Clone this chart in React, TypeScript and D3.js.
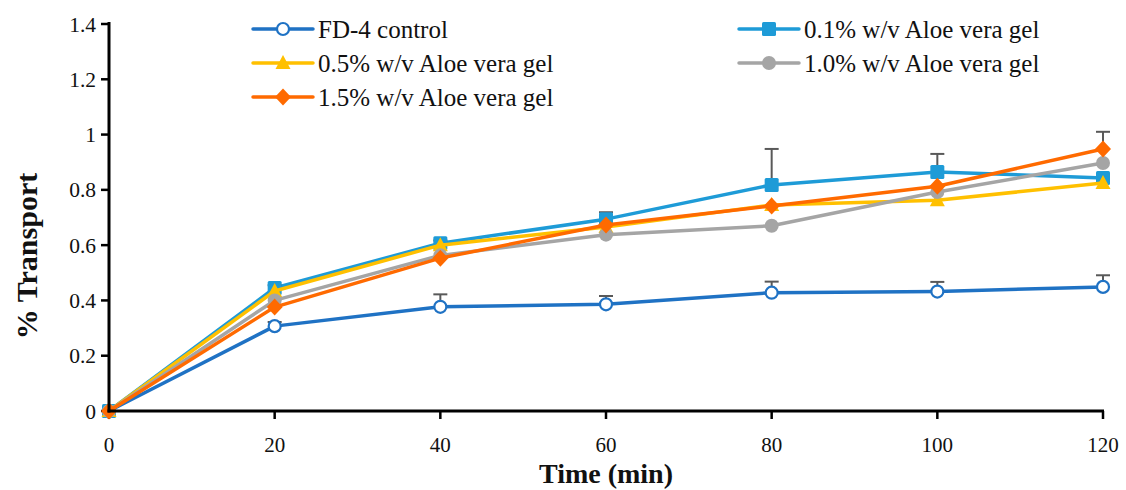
import React from "react";
import * as d3 from "d3";

const times = [0, 20, 40, 60, 80, 100, 120];
const seriesNames = [
  "FD-4 control",
  "0.1% w/v Aloe vera gel",
  "0.5% w/v Aloe vera gel",
  "1.0% w/v Aloe vera gel",
  "1.5% w/v Aloe vera gel",
];
const control = [0, 0.307, 0.377, 0.386, 0.428, 0.432, 0.449];
const aloe01 = [0, 0.445, 0.607, 0.694, 0.818, 0.865, 0.843];
const aloe05 = [0, 0.434, 0.6, 0.666, 0.745, 0.762, 0.825];
const aloe10 = [0, 0.4, 0.563, 0.638, 0.67, 0.792, 0.897];
const aloe15 = [0, 0.376, 0.553, 0.673, 0.742, 0.813, 0.948];
const errControl = [0, 0.015, 0.045, 0.03, 0.04, 0.035, 0.042];
const err01 = [0, 0.01, 0.01, 0.025, 0.13, 0.065, 0];
const err05 = [0, 0, 0, 0, 0, 0, 0];
const err10 = [0, 0, 0, 0, 0, 0, 0];
const err15 = [0, 0, 0, 0, 0, 0, 0.062];
const yTicks = [0, 0.2, 0.4, 0.6, 0.8, 1, 1.2, 1.4];
const xTicks = [0, 20, 40, 60, 80, 100, 120];

const colors = ["#1F72C4", "#1E9BD7", "#FFC000", "#A5A5A5", "#FF6A00"];
const markers = ["circle", "square", "triangle", "dot", "diamond"];
const values = [control, aloe01, aloe05, aloe10, aloe15];
const errors = [errControl, err01, err05, err10, err15];

const FONT = "'Liberation Serif', 'DejaVu Serif', serif";

function Marker({ type, x, y, color }: { type: string; x: number; y: number; color: string }) {
  if (type === "circle")
    return <circle cx={x} cy={y} r={6} fill="#fff" stroke={color} strokeWidth={2.2} />;
  if (type === "square")
    return <rect x={x - 7} y={y - 7} width={14} height={14} rx={1.5} fill={color} />;
  if (type === "triangle")
    return <path d={`M${x},${y - 8}L${x + 7.5},${y + 6}L${x - 7.5},${y + 6}Z`} fill={color} />;
  if (type === "dot") return <circle cx={x} cy={y} r={7} fill={color} />;
  return <path d={`M${x},${y - 8.5}L${x + 8},${y}L${x},${y + 8.5}L${x - 8},${y}Z`} fill={color} />;
}

export default function App() {
  const x = d3.scaleLinear().domain([0, 120]).range([109, 1103]);
  const y = d3.scaleLinear().domain([0, 1.4]).range([411, 24]);
  const line = d3
    .line<number>()
    .x((_, i) => x(times[i]))
    .y((d) => y(d));

  const legendItems = [
    { i: 0, lx: 253, ly: 29 },
    { i: 1, lx: 739, ly: 29 },
    { i: 2, lx: 253, ly: 63 },
    { i: 3, lx: 739, ly: 63 },
    { i: 4, lx: 253, ly: 97 },
  ];

  return (
    <svg
      width={1126}
      height={490}
      style={{ position: "absolute", left: 0, top: 0, background: "#fff" }}
      fontFamily={FONT}
    >
      <rect width={1126} height={490} fill="#fff" />
      {/* y ticks */}
      {yTicks.map((t) => (
        <g key={"y" + t}>
          <line x1={101} x2={109} y1={y(t)} y2={y(t)} stroke="#000" strokeWidth={2.5} />
          <text x={96} y={y(t)} dy="0.35em" textAnchor="end" fontSize={21.5} fill="#111">
            {d3.format("~g")(t)}
          </text>
        </g>
      ))}
      {xTicks.map((t) => (
        <g key={"x" + t}>
          <line x1={x(t)} x2={x(t)} y1={411} y2={419} stroke="#000" strokeWidth={2.5} />
          <text x={x(t)} y={452} textAnchor="middle" fontSize={21} fill="#111">
            {t}
          </text>
        </g>
      ))}
      {/* series */}
      {values.map((vals, si) => (
        <g key={"s" + si}>
          <path d={line(vals) || ""} fill="none" stroke={colors[si]} strokeWidth={3.5} strokeLinejoin="round" />
          {vals.map((v, i) =>
            errors[si][i] > 0 ? (
              <g key={"e" + i} stroke="#595959" strokeWidth={2}>
                <line x1={x(times[i])} x2={x(times[i])} y1={y(v)} y2={y(v + errors[si][i])} />
                <line
                  x1={x(times[i]) - 7}
                  x2={x(times[i]) + 7}
                  y1={y(v + errors[si][i])}
                  y2={y(v + errors[si][i])}
                />
              </g>
            ) : null
          )}
          {vals.map((v, i) => (
            <Marker key={"m" + i} type={markers[si]} x={x(times[i])} y={y(v)} color={colors[si]} />
          ))}
        </g>
      ))}
      {/* axes */}
      <line x1={109} x2={109} y1={22} y2={412.5} stroke="#000" strokeWidth={3} />
      <line x1={107.5} x2={1104} y1={411} y2={411} stroke="#000" strokeWidth={3} />
      {/* legend */}
      {legendItems.map(({ i, lx, ly }) => (
        <g key={"l" + i}>
          <line x1={lx} x2={lx + 60} y1={ly} y2={ly} stroke={colors[i]} strokeWidth={3.5} strokeLinecap="round" />
          <Marker type={markers[i]} x={lx + 30} y={ly} color={colors[i]} />
          <text x={lx + 65} y={ly} dy="0.35em" fontSize={25} fill="#111">
            {seriesNames[i]}
          </text>
        </g>
      ))}
      {/* axis titles */}
      <text x={606} y={483} textAnchor="middle" fontSize={28} fontWeight="bold" fill="#111">
        Time (min)
      </text>
      <text
        transform="translate(37,256) rotate(-90)"
        textAnchor="middle"
        fontSize={30}
        fontWeight="bold"
        fill="#111"
      >
        % Transport
      </text>
    </svg>
  );
}
